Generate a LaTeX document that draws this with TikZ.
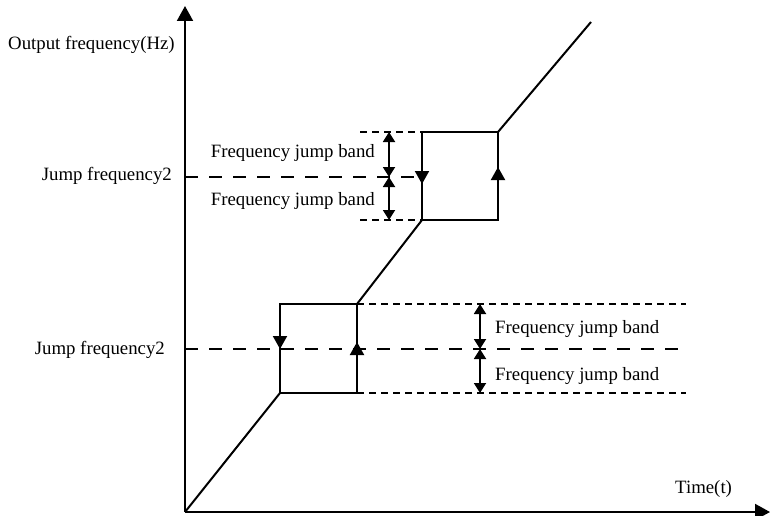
\documentclass[tikz,border=0pt]{standalone}
\usepackage{fontspec}
\setmainfont{Liberation Serif}
\usetikzlibrary{arrows.meta}
\begin{document}
\begin{tikzpicture}[x=1pt,y=-1pt,
  axis/.style={line width=2pt,-{Triangle[length=15pt,width=16pt]}},
  curve/.style={line width=2pt},
  longdash/.style={line width=1.8pt,dash pattern=on 13pt off 11pt},
  shortdash/.style={line width=1.5pt,dash pattern=on 7pt off 5pt},
  dirarrow/.style={line width=2pt,-{Triangle[length=13pt,width=14pt]}},
  band/.style={line width=1.8pt,{Triangle[length=10pt,width=12pt]}-{Triangle[length=10pt,width=12pt]}},
  lbl/.style={font=\fontsize{18.8}{22}\selectfont,inner sep=0pt}]
\useasboundingbox (0,0) rectangle (770,516);
% key points
\coordinate (O) at (185,512);
\coordinate (ytop) at (185,6);
\coordinate (xend) at (770,512);
\coordinate (A1) at (280,393);
\coordinate (A2) at (280,304);
\coordinate (A3) at (357,304);
\coordinate (A4) at (357,393);
\coordinate (B1) at (422,220);
\coordinate (B2) at (422,132);
\coordinate (B3) at (498,132);
\coordinate (B4) at (498,220);
\coordinate (E) at (591,22);
% axes
\draw[axis] (O) -- (ytop);
\draw[axis] (O) -- (xend);
% curve with hysteresis boxes
\draw[curve] (O) -- (A1);
\draw[curve] (A1) -- (A2) -- (A3) -- (A4) -- cycle;
\draw[curve] (A3) -- (B1);
\draw[curve] (B1) -- (B2) -- (B3) -- (B4) -- cycle;
\draw[curve] (B3) -- (E);
% direction arrows
\draw[dirarrow] (280,335) -- (280,349);
\draw[dirarrow] (357,356) -- (357,342);
\draw[dirarrow] (422,170) -- (422,184);
\draw[dirarrow] (498,181) -- (498,167);
% lower jump frequency lines
\coordinate (L0) at (185,349);
\coordinate (L1) at (686,349);
\draw[longdash] (L0) -- (L1);
\coordinate (LT1) at (686,304);
\coordinate (LB1) at (686,393);
\draw[shortdash] (A3) -- (LT1);
\draw[shortdash] (A4) -- (LB1);
\coordinate (la) at (480,304);
\coordinate (lm) at (480,349);
\coordinate (lb) at (480,393);
\draw[band] (la) -- (lm);
\draw[band] (lm) -- (lb);
% upper jump frequency lines
\coordinate (U0) at (185,177);
\coordinate (U1) at (422,177);
\draw[longdash] (U0) -- (U1);
\coordinate (UT0) at (360,132);
\coordinate (UB0) at (360,220);
\draw[shortdash] (UT0) -- (B2);
\draw[shortdash] (UB0) -- (B1);
\coordinate (ua) at (389,132);
\coordinate (um) at (389,177);
\coordinate (ub) at (389,220);
\draw[band] (ua) -- (um);
\draw[band] (um) -- (ub);
% labels
\node[lbl,anchor=west] (ylab) at (8,45) {Output frequency(Hz)};
\node[lbl,anchor=east] (jf2) at (172,176) {Jump frequency2};
\node[lbl,anchor=east] (jf1) at (165,350) {Jump frequency2};
\node[lbl,anchor=east] (ub1) at (375,153) {Frequency jump band};
\node[lbl,anchor=east] (ub2) at (375,201) {Frequency jump band};
\node[lbl,anchor=west] (lb1) at (495,329) {Frequency jump band};
\node[lbl,anchor=west] (lb2) at (495,376) {Frequency jump band};
\node[lbl,anchor=west] (tlab) at (675,489) {Time(t)};
\end{tikzpicture}
\end{document}
